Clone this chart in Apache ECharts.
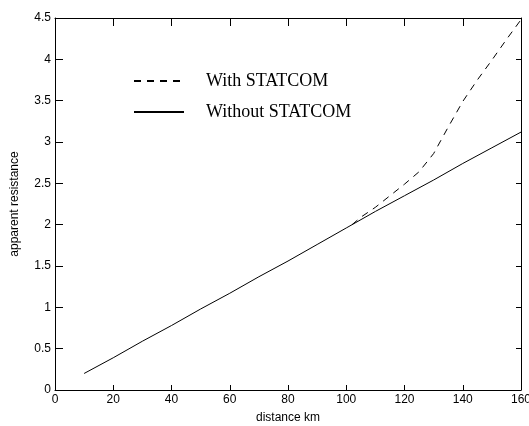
<!DOCTYPE html>
<html>
<head>
<meta charset="utf-8">
<script src="https://cdn.jsdelivr.net/npm/echarts@6/dist/echarts.min.js"></script>
<style>html,body{margin:0;padding:0;background:#fff}#c{width:529px;height:426px}</style>
</head>
<body>
<div id="c"></div>
<script>
const xTicks = [0, 20, 40, 60, 80, 100, 120, 140, 160];
const yTicks = [0, 0.5, 1, 1.5, 2, 2.5, 3, 3.5, 4, 4.5];

const withoutX = [10, 20, 30, 40, 50, 60, 70, 80, 90, 100, 110, 120, 130, 140, 150, 160];
const withoutY = [0.2, 0.39, 0.59, 0.78, 0.98, 1.17, 1.37, 1.56, 1.76, 1.96, 2.16, 2.35, 2.54, 2.74, 2.93, 3.12];

const withX = [102, 105, 110, 115, 120, 125, 130, 135, 140, 145, 150, 155, 160];
const withY = [2.0, 2.09, 2.21, 2.35, 2.49, 2.64, 2.86, 3.18, 3.49, 3.75, 3.99, 4.24, 4.48];

const seriesNames = ['With STATCOM', 'Without STATCOM'];

const zip = (xs, ys) => xs.map((x, i) => [x, ys[i]]);

const chart = echarts.init(document.getElementById('c'), null, {renderer: 'canvas'});
const labelFont = {fontFamily: 'Liberation Sans, Arial', fontSize: 12, color: '#000'};
const axisLine = {show: true, onZero: false, lineStyle: {color: '#000', width: 1}};
const tickIn = {show: true, inside: true, length: 8, lineStyle: {color: '#000', width: 1}};
const tickNeg = {show: true, inside: false, length: -5, lineStyle: {color: '#000', width: 1}};

chart.setOption({
  animation: false,
  backgroundColor: '#fff',
  grid: {left: 55, right: 8, top: 18, bottom: 36, containLabel: false, outerBoundsMode: 'none'},
  legend: {
    orient: 'vertical',
    left: 133,
    top: 71,
    padding: 0,
    itemWidth: 50,
    itemHeight: 14,
    itemGap: 11,
    data: seriesNames,
    lineStyle: {width: 2},
    itemStyle: {opacity: 0},
    textStyle: {fontFamily: 'Liberation Serif, Times New Roman', fontSize: 18, color: '#000', lineHeight: 20, padding: [0, 0, 0, 17]}
  },
  xAxis: [
    {type: 'value', min: xTicks[0], max: xTicks[xTicks.length - 1], interval: 20,
     name: 'distance km', nameLocation: 'middle', nameGap: 22,
     nameTextStyle: labelFont,
     axisLine: axisLine, axisTick: tickNeg, splitLine: {show: false},
     axisLabel: Object.assign({margin: 4}, labelFont)},
    {type: 'value', position: 'top', min: xTicks[0], max: xTicks[xTicks.length - 1], interval: 20,
     axisLine: axisLine, axisTick: tickIn, splitLine: {show: false}, axisLabel: {show: false}}
  ],
  yAxis: [
    {type: 'value', min: yTicks[0], max: yTicks[yTicks.length - 1], interval: 0.5,
     name: 'apparent resistance', nameLocation: 'middle', nameGap: 34,
     nameTextStyle: labelFont,
     axisLine: axisLine, axisTick: tickIn, splitLine: {show: false},
     axisLabel: Object.assign({margin: 4}, labelFont)},
    {type: 'value', position: 'right', min: yTicks[0], max: yTicks[yTicks.length - 1], interval: 0.5,
     axisLine: axisLine, axisTick: tickNeg, splitLine: {show: false}, axisLabel: {show: false}}
  ],
  series: [
    {name: seriesNames[1], type: 'line', symbol: 'none', data: zip(withoutX, withoutY),
     lineStyle: {color: '#000', width: 1, type: 'solid'}, itemStyle: {color: '#000'}},
    {name: seriesNames[0], type: 'line', symbol: 'none', data: zip(withX, withY),
     lineStyle: {color: '#000', width: 1, type: [7, 6]}, itemStyle: {color: '#000'}}
  ]
});
</script>
</body>
</html>
